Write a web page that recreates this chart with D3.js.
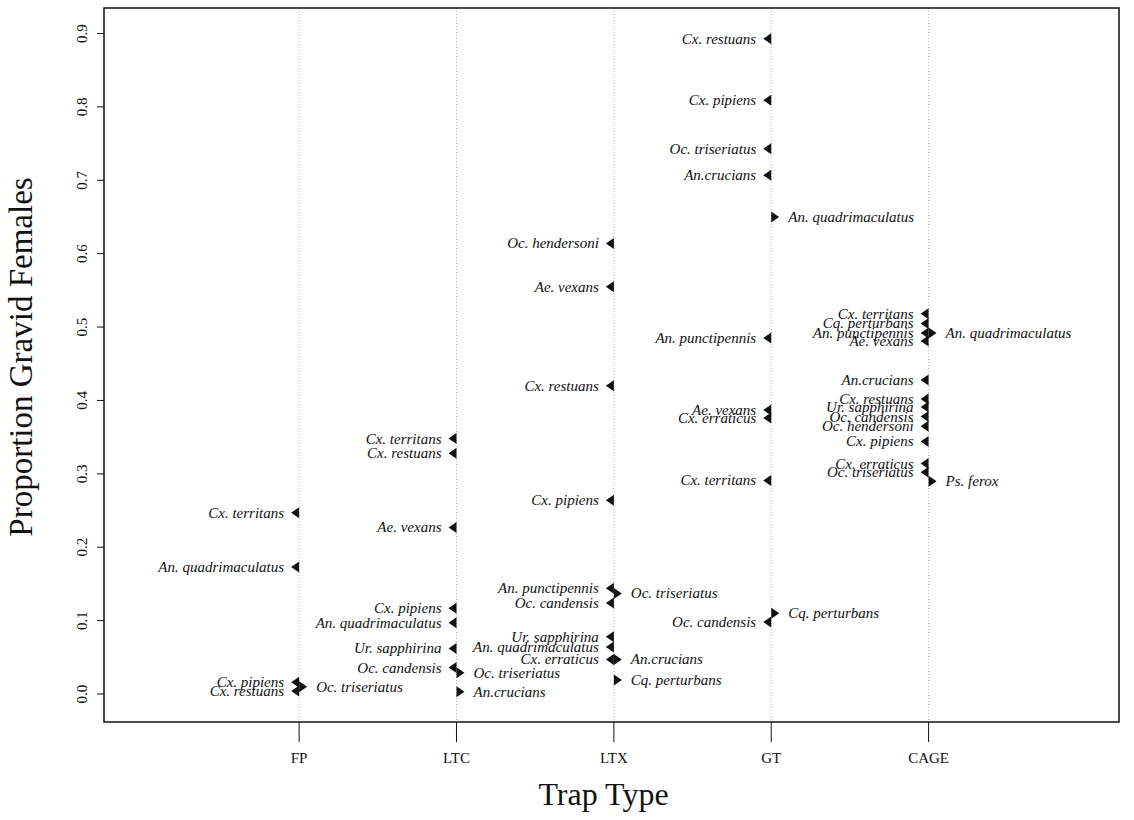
<!DOCTYPE html>
<html>
<head>
  <meta charset="utf-8">
  <title>Proportion Gravid Females by Trap Type</title>
  <script src="https://d3js.org/d3.v7.min.js"></script>
  <style>
    body { margin: 0; background: #fff; }
    svg { font-family: "Liberation Serif", "Times New Roman", serif; }
    .grid line { stroke: #b5b5b5; stroke-width: 1; stroke-dasharray: 1,2; }
    .pt-label { font-style: italic; font-size: 15px; fill: #111; }
    .tick-label { font-size: 15px; fill: #111; }
    .axis-title { font-size: 32px; fill: #111; }
  </style>
</head>
<body>
  <svg width="1134" height="820"></svg>
  <script>
    // trap types along the x axis
    const trapTypes = ["FP", "LTC", "LTX", "GT", "CAGE"];
    const yTicks = [0, 0.1, 0.2, 0.3, 0.4, 0.5, 0.6, 0.7, 0.8, 0.9];

    // one entry per plotted species (parallel arrays)
    const pointTrap = [
      "FP", "FP", "FP", "FP", "FP",
      "LTC", "LTC", "LTC", "LTC", "LTC", "LTC", "LTC", "LTC", "LTC",
      "LTX", "LTX", "LTX", "LTX", "LTX", "LTX", "LTX", "LTX", "LTX", "LTX", "LTX", "LTX",
      "GT", "GT", "GT", "GT", "GT", "GT", "GT", "GT", "GT", "GT", "GT",
      "CAGE", "CAGE", "CAGE", "CAGE", "CAGE", "CAGE", "CAGE", "CAGE", "CAGE", "CAGE", "CAGE", "CAGE", "CAGE", "CAGE"
    ];
    const pointSpecies = [
      "Cx. territans", "An. quadrimaculatus", "Cx. pipiens", "Cx. restuans", "Oc. triseriatus",
      "Cx. territans", "Cx. restuans", "Ae. vexans", "Cx. pipiens", "An. quadrimaculatus",
      "Ur. sapphirina", "Oc. candensis", "Oc. triseriatus", "An.crucians",
      "Oc. hendersoni", "Ae. vexans", "Cx. restuans", "Cx. pipiens", "An. punctipennis",
      "Oc. triseriatus", "Oc. candensis", "Ur. sapphirina", "An. quadrimaculatus",
      "Cx. erraticus", "An.crucians", "Cq. perturbans",
      "Cx. restuans", "Cx. pipiens", "Oc. triseriatus", "An.crucians", "An. quadrimaculatus",
      "An. punctipennis", "Ae. vexans", "Cx. erraticus", "Cx. territans", "Cq. perturbans",
      "Oc. candensis",
      "Cx. territans", "Cq. perturbans", "An. punctipennis", "An. quadrimaculatus", "Ae. vexans",
      "An.crucians", "Cx. restuans", "Ur. sapphirina", "Oc. candensis", "Oc. hendersoni",
      "Cx. pipiens", "Cx. erraticus", "Oc. triseriatus", "Ps. ferox"
    ];
    const pointValue = [
      0.247, 0.173, 0.016, 0.004, 0.010,
      0.348, 0.328, 0.227, 0.117, 0.097, 0.062, 0.036, 0.029, 0.003,
      0.614, 0.555, 0.420, 0.264, 0.144, 0.137, 0.124, 0.078, 0.064, 0.047, 0.047, 0.019,
      0.893, 0.809, 0.743, 0.707, 0.650, 0.485, 0.387, 0.376, 0.291, 0.110, 0.098,
      0.518, 0.505, 0.492, 0.492, 0.481, 0.428, 0.402, 0.391, 0.378, 0.365, 0.344, 0.314, 0.302, 0.290
    ];
    // "L" = label left of the marker (left triangle), "R" = label right
    const pointSide = [
      "L", "L", "L", "L", "R",
      "L", "L", "L", "L", "L", "L", "L", "R", "R",
      "L", "L", "L", "L", "L", "R", "L", "L", "L", "L", "R", "R",
      "L", "L", "L", "L", "R", "L", "L", "L", "L", "R", "L",
      "L", "L", "L", "R", "L", "L", "L", "L", "L", "L", "L", "L", "L", "R"
    ];

    const points = pointSpecies.map((s, i) => ({
      species: s, trap: pointTrap[i], value: pointValue[i], side: pointSide[i]
    }));

    const svg = d3.select("svg");
    const plotLeft = 104, plotRight = 1119, plotTop = 8, plotBottom = 722;

    // categories sit at 1..5 on a numeric axis
    const x = d3.scaleLinear().domain([-0.24, 6.21]).range([plotLeft, plotRight]);
    const xPos = t => x(trapTypes.indexOf(t) + 1);
    const y = d3.scaleLinear().domain([0, 0.9]).range([694, 33.5]);

    // dotted verticals at each trap type
    svg.append("g").attr("class", "grid")
      .selectAll("line").data(trapTypes).join("line")
      .attr("x1", d => xPos(d)).attr("x2", d => xPos(d))
      .attr("y1", plotTop).attr("y2", plotBottom);

    // frame
    svg.append("rect")
      .attr("x", plotLeft).attr("y", plotTop)
      .attr("width", plotRight - plotLeft).attr("height", plotBottom - plotTop)
      .attr("fill", "none").attr("stroke", "#111").attr("stroke-width", 1.5);

    // y axis ticks (labels rotated like base R graphics)
    const yAxis = svg.append("g");
    yAxis.selectAll("line").data(yTicks).join("line")
      .attr("x1", plotLeft - 7).attr("x2", plotLeft)
      .attr("y1", d => y(d)).attr("y2", d => y(d))
      .attr("stroke", "#111");
    yAxis.selectAll("text").data(yTicks).join("text")
      .attr("class", "tick-label")
      .attr("transform", d => `translate(87,${y(d)}) rotate(-90)`)
      .attr("text-anchor", "middle")
      .text(d => d3.format(".1f")(d));

    // x axis ticks
    const xAxis = svg.append("g");
    xAxis.selectAll("line").data(trapTypes).join("line")
      .attr("x1", d => xPos(d)).attr("x2", d => xPos(d))
      .attr("y1", plotBottom).attr("y2", plotBottom + 20)
      .attr("stroke", "#111");
    xAxis.selectAll("text").data(trapTypes).join("text")
      .attr("class", "tick-label")
      .attr("x", d => xPos(d)).attr("y", 763)
      .attr("text-anchor", "middle")
      .text(d => d);

    // axis titles
    svg.append("text").attr("class", "axis-title")
      .attr("x", (plotLeft + plotRight) / 2 - 8).attr("y", 805)
      .attr("text-anchor", "middle")
      .text("Trap Type");
    svg.append("text").attr("class", "axis-title")
      .attr("transform", `translate(32,${(plotTop + plotBottom) / 2 - 8}) rotate(-90)`)
      .attr("text-anchor", "middle")
      .style("font-size", "33px")
      .text("Proportion Gravid Females");

    // triangle markers: base on the trap line, tip pointing toward the label
    const tw = 8, th = 5.5;
    const marks = svg.append("g");
    marks.selectAll("path").data(points).join("path")
      .attr("d", d => {
        const cx = xPos(d.trap), cy = y(d.value);
        const tip = d.side === "L" ? cx - tw : cx + tw;
        return `M${cx},${cy - th}L${tip},${cy}L${cx},${cy + th}Z`;
      })
      .attr("fill", "#111");

    marks.selectAll("text").data(points).join("text")
      .attr("class", "pt-label")
      .attr("x", d => d.side === "L" ? xPos(d.trap) - 15 : xPos(d.trap) + 17)
      .attr("y", d => y(d.value))
      .attr("dy", "0.33em")
      .attr("text-anchor", d => d.side === "L" ? "end" : "start")
      .text(d => d.species);
  </script>
</body>
</html>
